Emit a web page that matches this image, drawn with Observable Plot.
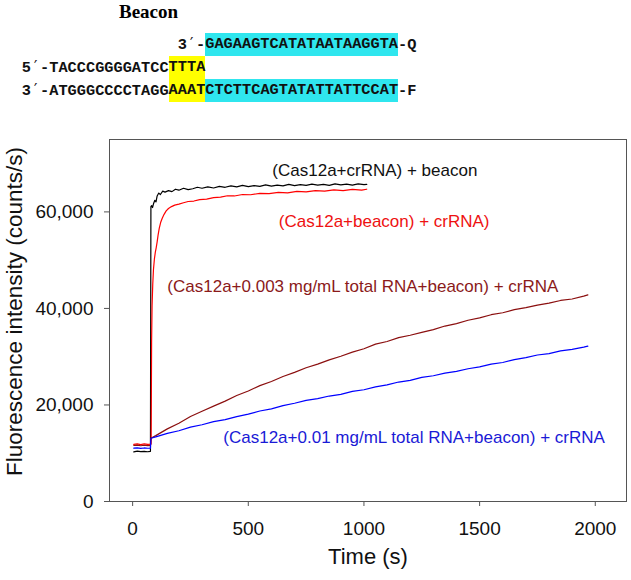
<!DOCTYPE html>
<html>
<head>
<meta charset="utf-8">
<script src="https://cdn.jsdelivr.net/npm/d3@7"></script>
<script src="https://cdn.jsdelivr.net/npm/@observablehq/plot@0.6"></script>
<style>
  html, body { margin: 0; padding: 0; background: #fff; overflow: hidden; }
  #hdr { position: relative; width: 631px; height: 110px; }
  #hdr .title { position: absolute; left: 119px; top: 0px; font: bold 19px/23px "Liberation Serif", "Times New Roman", serif; color: #000; }
  #hdr .seq { position: absolute; left: 21.7px; font: bold 15.3px/23px "Liberation Mono", "Courier New", monospace; color: #111; white-space: pre; height: 23px; }
  #hdr .prime { font-family: "DejaVu Sans Mono", monospace; font-weight: normal; display: inline-block; width: 1ch; }
  #chart svg { display: block; }
</style>
</head>
<body>
<div id="hdr"></div>
<div id="chart"></div>
<script>
// ---- header (beacon sequences) ----
const beaconTitle = "Beacon";
const quencherStrand = ["3", "-", "GAGAAGTCATATAATAAGGTA", "-Q"];
const topStrand = ["5", "-TACCCGGGGATCC", "TTTA"];
const bottomStrand = ["3", "-ATGGGCCCCTAGG", "AAAT", "CTCTTCAGTATATTATTCCAT", "-F"];
const PRIME = "′";

// ---- axes ----
const xTicks = [0, 500, 1000, 1500, 2000];
const yTicks = [0, 20000, 40000, 60000];

// ---- series: (Cas12a+crRNA) + beacon ----
const blackT = [5,20,35,50,65,77, 79,82,86,91,96,101,106,113,120,130,140, 155,170,185,200, 220,240,260,280,300, 325,350,375,400,425,450,475,500, 525,550,575,600,625,650,675,700, 725,750,775,800,825,850,875,900, 925,950,975,1000,1012];
const blackV = [10300,10420,10330,10380,10310,10400, 61100,61300,60900,61800,62400,62100,63300,63900,63600,64300,64100, 64400,64200,64700,64500, 64900,64600,64800,65100,64900, 65200,64950,65300,65100,65400,65200,65500,65250, 65450,65300,65600,65350,65550,65400,65700,65450, 65650,65500,65750,65550,65700,65500,65800,65600, 65750,65550,65800,65650,65700];

// ---- series: (Cas12a+beacon) + crRNA ----
const redT = [5,20,35,50,65,80, 82,84,87,90,94,98,102,106,110,115, 121,128,136,145,155,168,182,200, 220,240,265,290,320,350,380,410, 440,475,510,550,590,630,670,710, 750,790,830,870,910,950,990,1012];
const redV = [11850,11950,11800,11920,11830,11900, 33000,40500,45000,48000,50200,51600,52600,53800,55200,56600, 57800,58700,59500,60200,60700,61100,61400,61600, 61900,62150,62250,62550,62650,62950,63050,63350, 63300,63600,63550,63850,63800,64050,63950,64250, 64150,64400,64300,64550,64400,64650,64500,64700];

// ---- series: (Cas12a+0.003 mg/mL total RNA+beacon) + crRNA ----
const maroonT = [5,20,35,50,65,77, 79,100,150,200,250,300,350,400,450,500,550,600,650,700,750,800,850,900,950,1000,1050,1100,1150,1200,1250,1300,1350,1400,1450,1500,1550,1600,1650,1700,1750,1800,1850,1900,1950,1968];
const maroonV = [11600,11680,11550,11650,11580,11620, 13100,13650,15050,16200,17600,18700,19750,20800,21950,22900,24000,24850,25900,26750,27700,28450,29350,30100,30950,31650,32600,33150,33950,34450,35050,35600,36350,36850,37550,38050,38700,39100,39750,40150,40700,41100,41650,41950,42550,42800];

// ---- series: (Cas12a+0.01 mg/mL total RNA+beacon) + crRNA ----
const blueT = [5,20,35,50,65,77, 79,100,150,200,250,300,350,400,450,500,550,600,650,700,750,800,850,900,950,1000,1050,1100,1150,1200,1250,1300,1350,1400,1450,1500,1550,1600,1650,1700,1750,1800,1850,1900,1950,1968];
const blueV = [11050,11120,11000,11090,11030,11060, 13100,13400,14100,14650,15400,15900,16550,16950,17600,18100,18750,19200,19850,20350,20950,21300,21850,22200,22800,23150,23750,24150,24750,25100,25700,26050,26600,26950,27500,27900,28450,28800,29400,29800,30350,30650,31200,31500,32000,32200];

// ---- annotations ----
const labelText = ["(Cas12a+crRNA) + beacon", "(Cas12a+beacon) + crRNA)", "(Cas12a+0.003 mg/mL total RNA+beacon) + crRNA", "(Cas12a+0.01 mg/mL total RNA+beacon) + crRNA"];
const labelT = [604, 632, 150, 392];
const labelV = [68550, 57900, 44570, 13270];
const seriesColor = ["#000000", "#ff0000", "#8b0f0f", "#0000ff"];
const labelColor = ["#111111", "#ee1111", "#8b1a1a", "#1a1ad6"];

// ---- build header ----
const hdr = document.getElementById("hdr");
function seg(text, bg, cls) {
  const s = document.createElement("span");
  s.textContent = text;
  if (cls) s.className = cls;
  if (bg) {
    s.style.background = bg;
    s.style.display = "inline-block";
    s.style.height = "23px";
    s.style.verticalAlign = "top";
  }
  return s;
}
const CYAN = "#2fe6ee", YELLOW = "#ffff00";
const t0 = document.createElement("div");
t0.className = "title"; t0.textContent = beaconTitle; hdr.appendChild(t0);
const l1 = document.createElement("div");
l1.className = "seq"; l1.style.top = "33px"; l1.style.left = "177.7px";
l1.append(seg(quencherStrand[0]), seg(PRIME, null, "prime"), seg(quencherStrand[1]), seg(quencherStrand[2], CYAN), seg(quencherStrand[3]));
hdr.appendChild(l1);
const l2 = document.createElement("div");
l2.className = "seq"; l2.style.top = "56px";
l2.append(seg(topStrand[0]), seg(PRIME, null, "prime"), seg(topStrand[1]), seg(topStrand[2], YELLOW));
hdr.appendChild(l2);
const l3 = document.createElement("div");
l3.className = "seq"; l3.style.top = "79px";
l3.append(seg(bottomStrand[0]), seg(PRIME, null, "prime"), seg(bottomStrand[1]), seg(bottomStrand[2], YELLOW), seg(bottomStrand[3], CYAN), seg(bottomStrand[4]));
hdr.appendChild(l3);

// ---- build chart ----
const toRows = (T, V) => T.map((t, i) => ({t, v: V[i]}));
const series = [toRows(blackT, blackV), toRows(redT, redV), toRows(maroonT, maroonV), toRows(blueT, blueV)];
const labels = labelText.map((text, i) => ({text, t: labelT[i], v: labelV[i], c: labelColor[i]}));

const chart = Plot.plot({
  width: 631,
  height: 470,
  marginTop: 29,
  marginBottom: 79,
  marginLeft: 109,
  marginRight: 5,
  x: {domain: [-100, 2135]},
  y: {domain: [0, 75000]},
  style: {fontFamily: "'Liberation Sans', Arial, sans-serif", background: "#fff", color: "#111", overflow: "visible"},
  marks: [
    Plot.axisX({ticks: xTicks, tickSize: 5, tickPadding: 14.5, fontSize: 19, stroke: "#555", fill: "#111", tickFormat: d => String(d), label: null}),
    Plot.axisY({ticks: yTicks, tickSize: 5, tickPadding: 11, fontSize: 19, stroke: "#555", fill: "#111", tickFormat: d3.format(","), label: null}),
    ...series.map((rows, i) => Plot.line(rows, {x: "t", y: "v", stroke: seriesColor[i], strokeWidth: 1.2})),
    Plot.text(labels, {x: "t", y: "v", text: "text", fill: "c", textAnchor: "start", fontSize: 17}),
    Plot.text(["Time (s)"], {frameAnchor: "bottom", textAnchor: "middle", lineAnchor: "bottom", dy: 62, fontSize: 22, fill: "#111"}),
    Plot.text(["Fluorescence intensity (counts/s)"], {frameAnchor: "left", textAnchor: "middle", lineAnchor: "middle", rotate: -90, dx: -94.5, dy: -9, fontSize: 22.5, fill: "#111"}),
    Plot.frame({stroke: "#555"})
  ]
});
document.getElementById("chart").appendChild(chart);
</script>
</body>
</html>
